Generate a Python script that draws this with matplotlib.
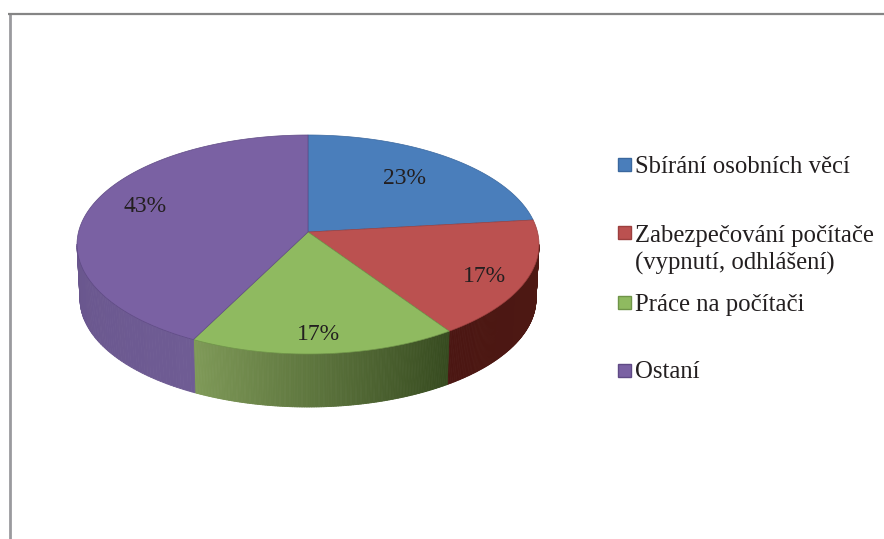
import numpy as np
import matplotlib
matplotlib.use('Agg')
import matplotlib.pyplot as plt
from matplotlib.collections import PolyCollection
from matplotlib.colors import to_rgb
from matplotlib.patches import Rectangle

# Data
categories = ['Sbírání osobních věcí', 'Zabezpečování počítače\n(vypnutí, odhlášení)',
              'Práce na počítači', 'Ostaní']
values = [23.2, 17.4, 16.8, 42.6]

# Colours
top_colors = ['#4a7ebb', '#bb5150', '#8fba60', '#7a61a3']
edge_colors = ['#3a679e', '#9c3f3e', '#6f9448', '#5f4a85']
wall_colors = [('#4a7ebb', '#4a7ebb'), ('#4b1612', '#4f1a14'),
               ('#7f9a58', '#364a1f'), ('#6f5c94', '#5f4c82')]

# Layout, in pixels of the 884x539 picture
cx, cy, rx, ry = 308, 244.5, 231, 109.5      # top ellipse
bx, by, brx, bry = 308, 299, 228, 108        # bottom ellipse
skew = 0.114                                 # the apex sits above the ellipse centre
label_pos = [(404, 179), (484, 277), (318, 335), (145, 207)]
legend_y = [165, 233, 303, 371]
legend_base = [172.7, 270, 310.7, 378]
text_color = '#231f20'
font = 'Liberation Serif'


def project(theta, r=1.0):
    # theta clockwise from top, gives unit ellipse coordinates with perspective
    x = r * np.sin(theta)
    y = r * np.cos(theta)
    d = 1 + skew * y
    return x * np.sqrt(1 - skew ** 2) / d, (y + skew) / d


def mix(c1, c2, f):
    a, b = np.array(to_rgb(c1)), np.array(to_rgb(c2))
    return tuple(a + (b - a) * f)


fig = plt.figure(figsize=(8.84, 5.39), dpi=100)
ax = fig.add_axes([0, 0, 1, 1])
ax.set_xlim(0, 884)
ax.set_ylim(539, 0)
ax.axis('off')

# Frame, only top and left are in the picture
ax.plot([9.5, 9.5], [14, 539], color='#9a9a9e', lw=2.0, solid_capstyle='butt')
ax.plot([8, 884], [14, 14], color='#858585', lw=1.6, solid_capstyle='butt')

edges = np.cumsum([0] + values) / sum(values) * 2 * np.pi

# Side walls, thin strips so the shading can run along the rim
polys, colors = [], []
for i in range(len(values)):
    th = np.linspace(edges[i], edges[i + 1], 160)
    ux, uy = project(th)
    for j in range(len(th) - 1):
        if uy[j] > 0.0 and uy[j + 1] > 0.0:
            continue
        tx = cx + rx * ux[j:j + 2]
        ty = cy - ry * uy[j:j + 2]
        lx = bx + brx * ux[j:j + 2]
        ly = by - bry * uy[j:j + 2]
        polys.append([(tx[0], ty[0]), (tx[1], ty[1]), (lx[1], ly[1]), (lx[0], ly[0])])
        # left colour of the pair is the one on the left of the picture
        f = j / (len(th) - 2)
        c = wall_colors[i]
        if ux[0] > ux[-1]:
            colors.append(mix(c[1], c[0], f))
        else:
            colors.append(mix(c[0], c[1], f))
walls = PolyCollection(polys, facecolors=colors, edgecolors=colors, linewidths=0.6, zorder=2)
ax.add_collection(walls)

# Top face
for i in range(len(values)):
    th = np.linspace(edges[i], edges[i + 1], 200)
    ux, uy = project(th)
    px = np.r_[cx, cx + rx * ux]
    py = np.r_[cy - ry * skew, cy - ry * uy]
    ax.fill(px, py, facecolor=top_colors[i], edgecolor=edge_colors[i], lw=0.5, zorder=3)

# Percent labels
for v, (lx, ly) in zip(values, label_pos):
    ax.text(lx, ly, f'{v / sum(values) * 100:.0f}%', ha='center', va='center',
            fontsize=17, family=font, color=text_color, zorder=4)

# Legend, rows are unevenly spaced in the picture
for name, col, ec, y, base in zip(categories, top_colors, edge_colors, legend_y, legend_base):
    ax.add_patch(Rectangle((617.5, y - 7), 13, 13, facecolor=col, edgecolor=ec, lw=1))
    ax.text(635, base, name, ha='left', va='baseline', fontsize=17.85, family=font,
            color=text_color, linespacing=1.3)

fig.savefig('out.png', dpi=100)
